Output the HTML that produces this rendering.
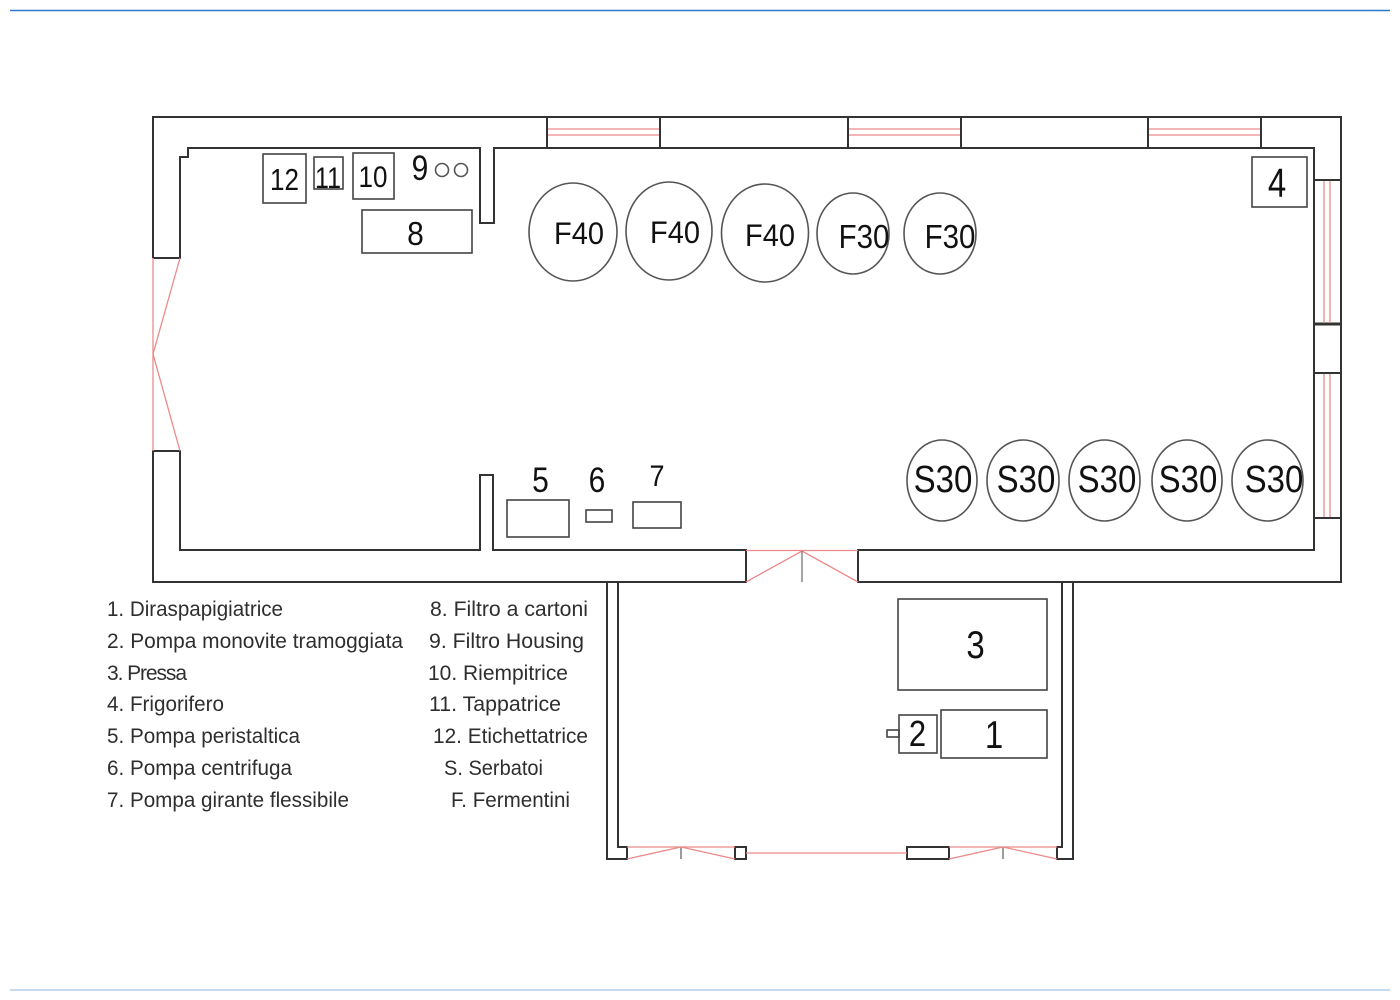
<!DOCTYPE html>
<html>
<head>
<meta charset="utf-8">
<style>
  html, body { margin:0; padding:0; background:#fff; }
  svg { display:block; }
  .w { fill:none; stroke:#333; stroke-width:2; stroke-linejoin:miter; }
  .b { fill:none; stroke:#444; stroke-width:1.6; }
  .c { fill:none; stroke:#555; stroke-width:1.6; }
  .r { fill:none; stroke:#ec8a8a; stroke-width:1.3; }
  .t { font-family:"Liberation Sans", Arial, sans-serif; fill:#111; text-anchor:middle; }
  .lg { font-family:"Liberation Sans", Arial, sans-serif; fill:#2e2e2e; font-size:21px; }
</style>
</head>
<body>
<svg width="1400" height="1000" viewBox="0 0 1400 1000" xmlns="http://www.w3.org/2000/svg">
  <line x1="10" y1="10.5" x2="1390" y2="10.5" stroke="#2a78d0" stroke-width="1.5"/>
  <line x1="10" y1="990" x2="1390" y2="990" stroke="#c6daf2" stroke-width="2"/>

  <path class="w" d="M153,258 V117 H1341 V582 H858 V550 H1314 V148 H494 V223 H480 V148 H188 V157 H180 V258 H153"/>
  <path class="w" d="M746,550 H493 V475 H480 V550 H180 V451 H153 V582 H746 Z"/>
  <line class="w" x1="858" y1="550" x2="858" y2="582"/>

  <g class="w">
    <line x1="547" y1="117" x2="547" y2="148"/><line x1="660" y1="117" x2="660" y2="148"/>
    <line x1="848" y1="117" x2="848" y2="148"/><line x1="961" y1="117" x2="961" y2="148"/>
    <line x1="1148" y1="117" x2="1148" y2="148"/><line x1="1261" y1="117" x2="1261" y2="148"/>
  </g>
  <g class="r">
    <line x1="548" y1="129" x2="659" y2="129"/><line x1="548" y1="135" x2="659" y2="135"/>
    <line x1="849" y1="129" x2="960" y2="129"/><line x1="849" y1="135" x2="960" y2="135"/>
    <line x1="1149" y1="129" x2="1260" y2="129"/><line x1="1149" y1="135" x2="1260" y2="135"/>
  </g>

  <g class="w">
    <line x1="1314" y1="180" x2="1341" y2="180"/>
    <line x1="1314" y1="324" x2="1341" y2="324" stroke-width="3"/>
    <line x1="1314" y1="373" x2="1341" y2="373"/>
    <line x1="1314" y1="518" x2="1341" y2="518"/>
  </g>
  <g class="r">
    <line x1="1324" y1="181" x2="1324" y2="323"/><line x1="1330" y1="181" x2="1330" y2="323"/>
    <line x1="1324" y1="374" x2="1324" y2="517"/><line x1="1330" y1="374" x2="1330" y2="517"/>
  </g>

  <g class="r">
    <line x1="153" y1="258" x2="153" y2="451"/>
    <polyline points="180,258 153,354 180,451"/>
  </g>

  <g class="r">
    <line x1="746" y1="550.5" x2="858" y2="550.5"/>
    <polyline points="746,582 802,551 858,582"/>
  </g>
  <line x1="802" y1="551" x2="802" y2="582" stroke="#777" stroke-width="1.3"/>

  <path class="w" d="M607,582 V859 H627 V847 H618 V582"/>
  <path class="w" d="M1073,582 V859 H1057 V847 H1062 V582"/>
  <rect class="w" x="735" y="847" width="11" height="12"/>
  <rect class="w" x="907" y="847" width="42" height="12"/>
  <g stroke="#666" stroke-width="1.3">
    <line x1="681" y1="847" x2="681" y2="859"/>
    <line x1="1003" y1="847" x2="1003" y2="859"/>
  </g>
  <g class="r">
    <line x1="627" y1="847" x2="735" y2="847"/>
    <line x1="627" y1="859" x2="681" y2="847"/>
    <line x1="681" y1="847" x2="735" y2="859"/>
    <line x1="746" y1="853" x2="907" y2="853"/>
    <line x1="949" y1="847" x2="1057" y2="847"/>
    <line x1="949" y1="859" x2="1003" y2="847"/>
    <line x1="1003" y1="847" x2="1057" y2="859"/>
  </g>

  <g class="b">
    <rect x="263" y="154" width="43" height="49"/>
    <rect x="314" y="157" width="29" height="32"/>
    <rect x="353" y="153" width="41" height="46"/>
    <rect x="362" y="210" width="110" height="43"/>
    <rect x="1252" y="157" width="55" height="50"/>
    <rect x="507" y="500" width="62" height="37"/>
    <rect x="586" y="510" width="26" height="12"/>
    <rect x="633" y="502" width="48" height="26"/>
    <rect x="898" y="599" width="149" height="91"/>
    <rect x="941" y="710" width="106" height="48"/>
    <rect x="899" y="715" width="38" height="38"/>
    <rect x="887" y="730" width="12" height="7"/>
  </g>
  <g class="c" stroke-width="1.3">
    <circle cx="442" cy="170" r="6.5"/>
    <circle cx="461" cy="170" r="6.5"/>
  </g>

  <g class="c">
    <ellipse cx="573" cy="232" rx="44" ry="49"/>
    <ellipse cx="669" cy="231" rx="43" ry="49"/>
    <ellipse cx="765" cy="233" rx="43.5" ry="49"/>
    <ellipse cx="853" cy="233.5" rx="36" ry="40.5"/>
    <ellipse cx="940" cy="233.5" rx="36" ry="40.5"/>
  </g>
  <g class="c">
    <ellipse cx="942" cy="480.5" rx="35" ry="40.5"/>
    <ellipse cx="1023" cy="480.5" rx="36" ry="40.5"/>
    <ellipse cx="1104.5" cy="480.5" rx="35.5" ry="40.5"/>
    <ellipse cx="1187" cy="480.5" rx="35" ry="40.5"/>
    <ellipse cx="1267.5" cy="480.5" rx="35.5" ry="40.5"/>
  </g>

  <g class="t">
    <text font-size="29" transform="matrix(1,0,0,1.1,579,244)">F40</text>
    <text font-size="29" transform="matrix(1,0,0,1.1,675,243)">F40</text>
    <text font-size="29" transform="matrix(1,0,0,1.1,770,246)">F40</text>
    <text font-size="29.5" transform="matrix(1,0,0,1.14,864,248)">F30</text>
    <text font-size="29.5" transform="matrix(1,0,0,1.14,950,248)">F30</text>

    <text font-size="33" transform="matrix(1,0,0,1.14,943,492)">S30</text>
    <text font-size="33" transform="matrix(1,0,0,1.14,1026,492)">S30</text>
    <text font-size="33" transform="matrix(1,0,0,1.14,1107,492)">S30</text>
    <text font-size="33" transform="matrix(1,0,0,1.14,1188,492)">S30</text>
    <text font-size="33" transform="matrix(1,0,0,1.14,1274,492)">S30</text>

    <text font-size="26" transform="matrix(1,0,0,1.18,284.5,190)">12</text>
    <text font-size="25" transform="matrix(1,0,0,1.17,328,188)">11</text>
    <text font-size="26" transform="matrix(1,0,0,1.13,373,187)">10</text>
    <text font-size="30" transform="matrix(1,0,0,1.16,420,180)">9</text>
    <text font-size="30" transform="matrix(1,0,0,1.12,415.5,245)">8</text>
    <text font-size="33" transform="matrix(1,0,0,1.23,1277,197)">4</text>
    <text font-size="30" transform="matrix(1,0,0,1.16,540.5,492)">5</text>
    <text font-size="30" transform="matrix(1,0,0,1.16,597,492)">6</text>
    <text font-size="27" transform="matrix(1,0,0,1.1,657,486)">7</text>
    <text font-size="33" transform="matrix(1,0,0,1.18,975.5,658)">3</text>
    <text font-size="33" transform="matrix(1,0,0,1.18,994,748)">1</text>
    <text font-size="31" transform="matrix(1,0,0,1.17,917.5,746)">2</text>
  </g>

  <g class="lg">
    <text x="107" y="616" textLength="176" lengthAdjust="spacingAndGlyphs">1. Diraspapigiatrice</text>
    <text x="107" y="648" textLength="296" lengthAdjust="spacingAndGlyphs">2. Pompa monovite tramoggiata</text>
    <text x="107" y="680" textLength="80" lengthAdjust="spacing">3. Pressa</text>
    <text x="107" y="711" textLength="117" lengthAdjust="spacingAndGlyphs">4. Frigorifero</text>
    <text x="107" y="743" textLength="193" lengthAdjust="spacingAndGlyphs">5. Pompa peristaltica</text>
    <text x="107" y="775" textLength="185" lengthAdjust="spacingAndGlyphs">6. Pompa centrifuga</text>
    <text x="107" y="807" textLength="242" lengthAdjust="spacingAndGlyphs">7. Pompa girante flessibile</text>

    <text x="430" y="616" textLength="158" lengthAdjust="spacingAndGlyphs">8. Filtro a cartoni</text>
    <text x="429" y="648" textLength="155" lengthAdjust="spacingAndGlyphs">9. Filtro Housing</text>
    <text x="428" y="680" textLength="140" lengthAdjust="spacingAndGlyphs">10. Riempitrice</text>
    <text x="429" y="711" textLength="132" lengthAdjust="spacingAndGlyphs">11. Tappatrice</text>
    <text x="433" y="743" textLength="155" lengthAdjust="spacingAndGlyphs">12. Etichettatrice</text>
    <text x="444" y="775" textLength="99" lengthAdjust="spacingAndGlyphs">S. Serbatoi</text>
    <text x="451" y="807" textLength="119" lengthAdjust="spacingAndGlyphs">F. Fermentini</text>
  </g>
</svg>
</body>
</html>
